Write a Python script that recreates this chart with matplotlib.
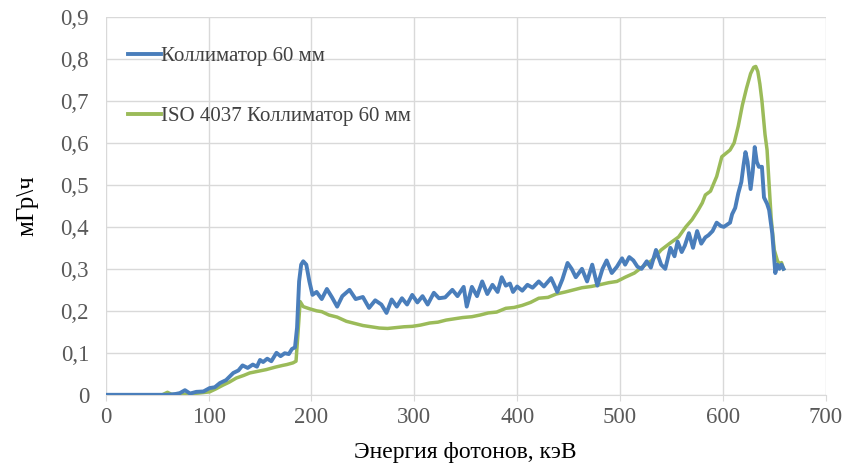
import matplotlib.pyplot as plt
from matplotlib.ticker import FuncFormatter, MultipleLocator

# Энергия (кэВ) и мощность дозы (мГр/ч) для коллиматора 60 мм
energy_col = [0, 20, 40, 60, 68, 72, 77, 82, 88, 95, 101, 106, 111, 117, 124, 129, 133,
              138, 143, 147, 150, 153, 157, 161, 166, 170, 174, 178, 181, 184, 186,
              188, 190, 192, 195, 198, 201, 205, 210, 215, 220, 225, 230, 237, 243,
              250, 256, 262, 268, 273, 278, 283, 288, 293, 298, 303, 308, 313, 319,
              324, 330, 337, 342, 348, 351, 356, 361, 366, 371, 376, 381, 385, 389,
              393, 396, 400, 405, 410, 415, 421, 426, 433, 436, 439, 444, 449, 453,
              457, 463, 468, 473, 478, 483, 487, 492, 497, 502, 505, 509, 513, 517,
              521, 526, 530, 535, 540, 544, 549, 553, 556, 560, 563, 567, 571, 575,
              579, 583, 586, 590, 594, 598, 601, 604, 607, 609, 612, 615, 618, 620,
              622, 624, 627, 629, 631, 633, 635, 638, 640, 643, 645, 648, 651, 653,
              655, 657, 659]
dose_col = [0, 0, 0, 0, 0.002, 0.004, 0.011, 0.003, 0.007, 0.008, 0.016, 0.018, 0.028,
            0.035, 0.052, 0.058, 0.07, 0.064, 0.072, 0.067, 0.083, 0.078, 0.086, 0.08,
            0.1, 0.092, 0.099, 0.097, 0.109, 0.113, 0.16, 0.27, 0.31, 0.318, 0.31,
            0.27, 0.238, 0.245, 0.228, 0.252, 0.232, 0.21, 0.235, 0.25, 0.228, 0.233,
            0.207, 0.225, 0.215, 0.195, 0.227, 0.21, 0.23, 0.215, 0.238, 0.22, 0.235,
            0.215, 0.243, 0.23, 0.232, 0.25, 0.235, 0.257, 0.21, 0.257, 0.235, 0.27,
            0.24, 0.262, 0.245, 0.28, 0.26, 0.265, 0.245, 0.258, 0.248, 0.262, 0.255,
            0.27, 0.258, 0.278, 0.262, 0.245, 0.275, 0.314, 0.3, 0.28, 0.3, 0.27, 0.31,
            0.26, 0.3, 0.32, 0.29, 0.305, 0.325, 0.31, 0.328, 0.32, 0.305, 0.3, 0.318,
            0.303, 0.345, 0.31, 0.3, 0.35, 0.33, 0.365, 0.34, 0.355, 0.385, 0.35, 0.39,
            0.36, 0.375, 0.38, 0.39, 0.41, 0.402, 0.4, 0.405, 0.41, 0.43, 0.445, 0.48,
            0.507, 0.545, 0.578, 0.555, 0.49, 0.53, 0.59, 0.555, 0.543, 0.543, 0.47,
            0.455, 0.44, 0.385, 0.29, 0.31, 0.3, 0.31, 0.3]

# Спектр по ISO 4037 для того же коллиматора
energy_iso = [0, 20, 40, 55, 60, 64, 70, 80, 90, 101, 107, 114, 120, 127, 134, 140,
              148, 156, 165, 172, 176, 182, 185, 187, 189, 192, 198, 205, 210, 217,
              225, 234, 242, 250, 258, 266, 274, 282, 290, 298, 306, 315, 323, 331,
              339, 347, 356, 364, 372, 380, 389, 397, 405, 413, 421, 430, 438, 447,
              455, 463, 472, 480, 489, 497, 505, 514, 522, 531, 540, 548, 557, 564,
              570, 576, 580, 583, 588, 594, 599, 603, 607, 611, 615, 619, 623, 627,
              630, 632, 634, 636, 638, 641, 643, 645, 647, 650, 653, 655, 657, 659]
dose_iso = [0, 0, 0, 0, 0.006, 0.001, 0, 0.002, 0.004, 0.007, 0.014, 0.023, 0.03, 0.04,
            0.046, 0.052, 0.056, 0.06, 0.066, 0.07, 0.072, 0.076, 0.08, 0.15, 0.222,
            0.21, 0.205, 0.2, 0.198, 0.19, 0.185, 0.175, 0.17, 0.165, 0.162, 0.159,
            0.158, 0.16, 0.162, 0.163, 0.166, 0.171, 0.173, 0.178, 0.181, 0.184, 0.186,
            0.19, 0.195, 0.197, 0.206, 0.208, 0.213, 0.22, 0.23, 0.232, 0.24, 0.245,
            0.25, 0.255, 0.258, 0.262, 0.267, 0.27, 0.28, 0.29, 0.305, 0.32, 0.345,
            0.36, 0.376, 0.4, 0.417, 0.44, 0.457, 0.476, 0.485, 0.52, 0.567, 0.575,
            0.583, 0.6, 0.64, 0.69, 0.73, 0.765, 0.78, 0.782, 0.77, 0.74, 0.70, 0.62,
            0.583, 0.50, 0.42, 0.345, 0.32, 0.31, 0.315, 0.3]

label_col = 'Коллиматор 60 мм'
label_iso = 'ISO 4037 Коллиматор 60 мм'

plt.rcParams['font.family'] = ['Liberation Serif', 'DejaVu Serif']

fig = plt.figure(figsize=(8.46, 4.70), dpi=100)
ax = fig.add_axes([0.125, 0.16, 0.851, 0.804])

ax.plot(energy_col, dose_col, color='#4a7ebb', lw=2.8, label=label_col, zorder=3)
ax.plot(energy_iso, dose_iso, color='#9bbb59', lw=2.5, label=label_iso, zorder=2)

ax.set_xlim(0, 700)
ax.set_ylim(0, 0.9)
ax.xaxis.set_major_locator(MultipleLocator(100))
ax.yaxis.set_major_locator(MultipleLocator(0.1))

def comma(v, pos):
    if abs(v) < 1e-9:
        return '0'
    return f'{v:.1f}'.replace('.', ',')

ax.yaxis.set_major_formatter(FuncFormatter(comma))

ax.grid(True, color='#d9d9d9', lw=1)
ax.set_axisbelow(True)
for s in ['top', 'right', 'left']:
    ax.spines[s].set_visible(False)
ax.spines['bottom'].set_color('#d9d9d9')
ax.tick_params(axis='x', length=4, color='#d9d9d9', labelsize=16.5, labelcolor='#595959', pad=5)
ax.tick_params(axis='y', length=0, labelsize=16.5, labelcolor='#595959', pad=12)

ax.set_xlabel('Энергия фотонов, кэВ', fontsize=17, color='#000000', labelpad=10)
ax.set_ylabel('мГр\\ч', fontsize=18, color='#000000', labelpad=16)

leg = ax.legend(loc='upper left', bbox_to_anchor=(0.005, 0.972), frameon=False,
                fontsize=15, handlelength=1.6, handletextpad=0.0, labelspacing=1.95,
                labelcolor='#404040')
for line in leg.get_lines():
    line.set_linewidth(2.8)

fig.savefig('out.png', dpi=100)
